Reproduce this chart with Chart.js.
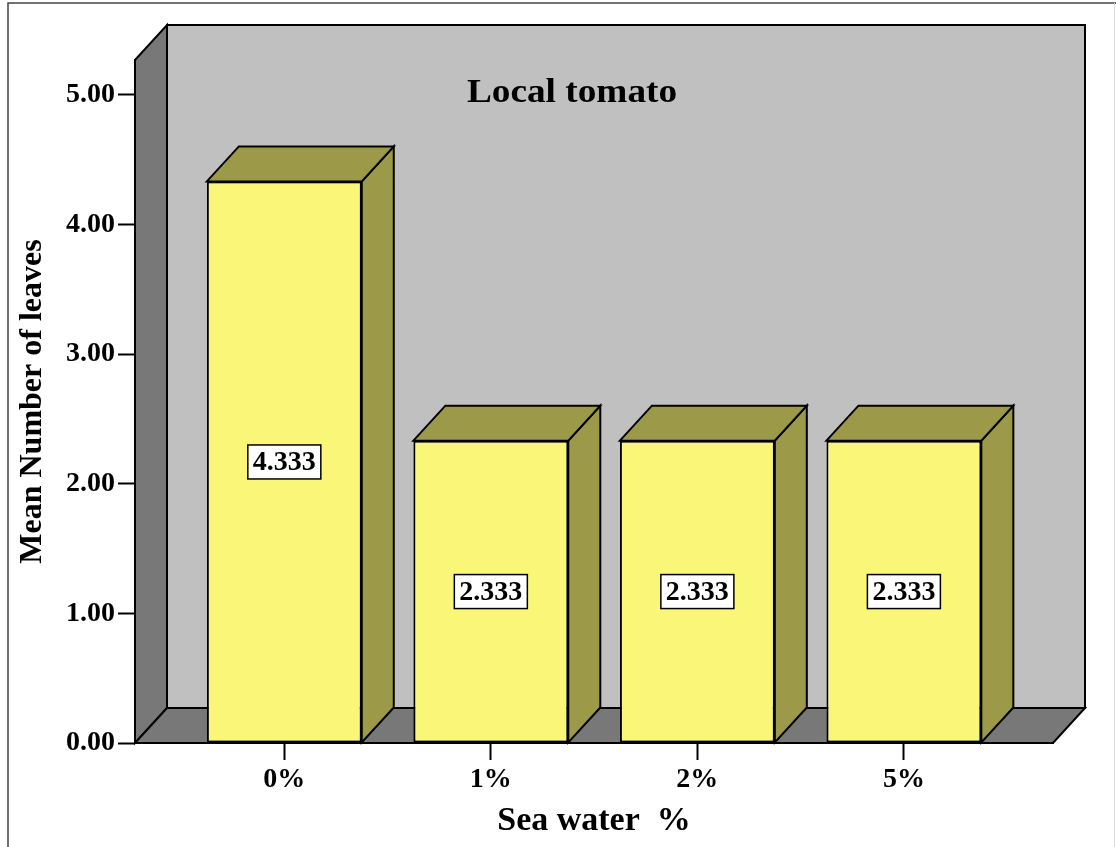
<!DOCTYPE html>
<html>
<head>
<meta charset="utf-8">
<title>Local tomato</title>
<script src="https://cdn.jsdelivr.net/npm/chart.js@4.4.1/dist/chart.umd.min.js"></script>
<style>
  html, body { margin: 0; padding: 0; background: #fff; }
  #wrap { width: 1116px; height: 847px; position: relative; }
</style>
</head>
<body>
<div id="wrap"><canvas id="leafChart"></canvas></div>
<script>
// Mean number of leaves per sea water level
const categories = ['0%', '1%', '2%', '5%'];
const meanLeaves = [4.333, 2.333, 2.333, 2.333];
const yTickValues = [0, 1, 2, 3, 4, 5];

const SERIF = '"Liberation Serif", "Times New Roman", serif';
const DEPTH_X = 32;
const DEPTH_Y = -35;

function poly(ctx, pts, fill) {
  ctx.beginPath();
  ctx.moveTo(pts[0][0], pts[0][1]);
  for (let i = 1; i < pts.length; i++) ctx.lineTo(pts[i][0], pts[i][1]);
  ctx.closePath();
  ctx.fillStyle = fill;
  ctx.fill();
  ctx.stroke();
}

// Walls, floor, bar extrusions, value boxes and the title
const box3d = {
  id: 'box3d',
  beforeDraw(chart) {
    const { ctx, chartArea: a } = chart;
    const dx = DEPTH_X, dy = DEPTH_Y;
    ctx.save();
    // outer frame
    ctx.strokeStyle = '#444';
    ctx.lineWidth = 1.5;
    ctx.beginPath();
    ctx.moveTo(8, chart.height);
    ctx.lineTo(8, 3);
    ctx.lineTo(chart.width, 3);
    ctx.stroke();
    ctx.strokeStyle = '#ddd';
    ctx.lineWidth = 1;
    ctx.beginPath();
    ctx.moveTo(chart.width - 1.5, 3);
    ctx.lineTo(chart.width - 1.5, chart.height);
    ctx.stroke();

    ctx.strokeStyle = '#000';
    ctx.lineWidth = 2;
    poly(ctx, [[a.left + dx, a.top + dy], [a.right + dx, a.top + dy], [a.right + dx, a.bottom + dy], [a.left + dx, a.bottom + dy]], '#c0c0c0');
    poly(ctx, [[a.left, a.top], [a.left + dx, a.top + dy], [a.left + dx, a.bottom + dy], [a.left, a.bottom]], '#787878');
    poly(ctx, [[a.left, a.bottom], [a.left + dx, a.bottom + dy], [a.right + dx, a.bottom + dy], [a.right, a.bottom]], '#787878');
    ctx.restore();
  },
  beforeDatasetsDraw(chart) {
    const { ctx } = chart;
    const dx = DEPTH_X, dy = DEPTH_Y;
    ctx.save();
    ctx.strokeStyle = '#000';
    ctx.lineWidth = 2;
    chart.getDatasetMeta(0).data.forEach(bar => {
      const { x, y, base, width } = bar.getProps(['x', 'y', 'base', 'width'], true);
      const l = x - width / 2, r = x + width / 2;
      poly(ctx, [[r, y], [r + dx, y + dy], [r + dx, base + dy], [r, base]], '#9c9a48');
      poly(ctx, [[l, y], [l + dx, y + dy], [r + dx, y + dy], [r, y]], '#9c9a48');
    });
    ctx.restore();
  },
  afterDatasetsDraw(chart) {
    const { ctx } = chart;
    ctx.save();
    ctx.font = 'bold 28px ' + SERIF;
    ctx.textAlign = 'center';
    ctx.textBaseline = 'middle';
    chart.getDatasetMeta(0).data.forEach((bar, i) => {
      const { x, y, base } = bar.getProps(['x', 'y', 'base'], true);
      const text = meanLeaves[i].toFixed(3);
      const w = ctx.measureText(text).width + 10;
      const h = 34;
      const cy = (y + base) / 2;
      ctx.fillStyle = '#fff';
      ctx.fillRect(x - w / 2, cy - h / 2, w, h);
      ctx.strokeStyle = '#000';
      ctx.lineWidth = 1.5;
      ctx.strokeRect(x - w / 2, cy - h / 2, w, h);
      ctx.fillStyle = '#000';
      ctx.fillText(text, x, cy + 1);
    });
    ctx.restore();
  },
  afterDraw(chart) {
    const { ctx, chartArea: a } = chart;
    ctx.save();
    ctx.font = 'bold 33px ' + SERIF;
    ctx.textAlign = 'center';
    ctx.textBaseline = 'alphabetic';
    ctx.fillStyle = '#000';
    // the heading is set slightly wide
    ctx.translate(a.left + 437, a.top + 42);
    ctx.scale(1.13, 1);
    ctx.fillText('Local tomato', 0, 0);
    ctx.restore();
  }
};

const ctx = document.getElementById('leafChart').getContext('2d');
const leafChart = new Chart(ctx, {
  type: 'bar',
  data: {
    datasets: [
      {
        label: 'Mean Number of leaves',
        data: meanLeaves.map((v, i) => ({ x: i, y: v })),
        backgroundColor: '#faf677',
        borderColor: '#000',
        borderWidth: 2,
        borderSkipped: false,
        barPercentage: 0.75,
        categoryPercentage: 1,
      },
    ],
  },
  options: {
    responsive: true,
    maintainAspectRatio: false,
    animation: false,
    layout: { padding: { left: 8, top: 60, right: 63, bottom: 5 } },
    plugins: {
      legend: { display: false },
      tooltip: { enabled: false },
    },
    scales: {
      x: {
        type: 'linear',
        min: -0.723,
        max: 3.722,
        offset: false,
        afterBuildTicks: (s) => {
          s.ticks = categories.map((c, i) => ({ value: i }));
        },
        afterFit: (s) => { s.height = 99; },
        ticks: {
          stepSize: 1,
          includeBounds: false,
          padding: 3,
          color: '#000',
          font: { family: SERIF, size: 28, weight: 'bold' },
          callback: (v) => categories[v],
        },
        grid: {
          offset: false,
          drawOnChartArea: false,
          tickLength: 17,
          tickColor: '#000',
          tickWidth: 2,
        },
        border: { color: '#000', width: 2 },
        title: {
          display: true,
          text: 'Sea water  %',
          color: '#000',
          font: { family: SERIF, size: 34, weight: 'bold' },
          padding: { top: 0, bottom: 0 },
        },
      },
      y: {
        min: 0,
        max: 5.27,
        afterBuildTicks: (s) => {
          s.ticks = yTickValues.map((v) => ({ value: v }));
        },
        afterFit: (s) => { s.width = 127; },
        ticks: {
          stepSize: 1,
          includeBounds: false,
          padding: 3,
          color: '#000',
          font: { family: SERIF, size: 28, weight: 'bold' },
          callback: (v) => v.toFixed(2),
        },
        grid: {
          drawOnChartArea: false,
          tickLength: 17,
          tickColor: '#000',
          tickWidth: 2,
        },
        border: { color: '#000', width: 2 },
        title: {
          display: true,
          text: 'Mean Number of leaves',
          color: '#000',
          font: { family: SERIF, size: 32, weight: 'bold' },
          padding: { top: 6, bottom: 0 },
        },
      },
    },
  },
  plugins: [box3d],
});
</script>
</body>
</html>
